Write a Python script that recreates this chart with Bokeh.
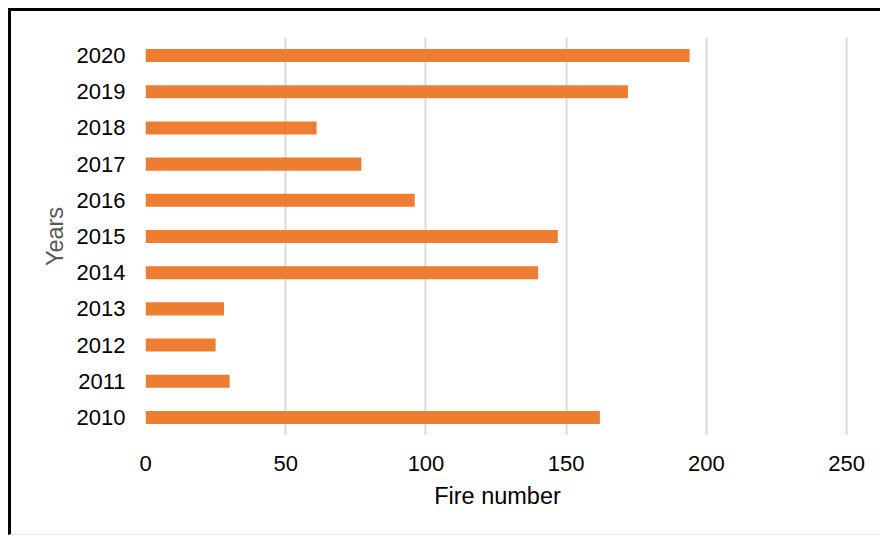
from bokeh.plotting import figure
from bokeh.models import Range1d, FactorRange, FixedTicker, ColumnDataSource
from bokeh.embed import file_html
from bokeh.resources import INLINE

years = ["2010", "2011", "2012", "2013", "2014", "2015", "2016", "2017", "2018", "2019", "2020"]
fires = [162, 30, 25, 28, 140, 147, 96, 77, 61, 172, 194]
x_ticks = [0, 50, 100, 150, 200, 250]

src = ColumnDataSource(data=dict(year=years, fires=fires))

p = figure(
    y_range=FactorRange(factors=years, range_padding=0),
    x_range=Range1d(0, 251),
    frame_width=704, frame_height=398,
    min_border_left=134, min_border_right=31,
    min_border_top=26, min_border_bottom=99,
    output_backend="svg", toolbar_location=None,
)
p.styles = {"border-top": "3px solid #000000", "border-left": "3px solid #000000",
            "border-bottom": "1px solid #e6e6e6",
            "margin-left": "8px", "margin-top": "8px"}

p.hbar(y="year", right="fires", left=0, height=0.36, source=src,
       fill_color="#ED7D31", line_color=None)

p.outline_line_color = None
p.background_fill_color = "white"
p.border_fill_color = "white"

p.xaxis.ticker = FixedTicker(ticks=x_ticks)
p.xgrid.ticker = FixedTicker(ticks=x_ticks)
p.xgrid.grid_line_color = "#D9D9D9"
p.xgrid.grid_line_width = 2
p.ygrid.grid_line_color = None

for ax in (p.xaxis[0], p.yaxis[0]):
    ax.axis_line_color = None
    ax.major_tick_line_color = None
    ax.minor_tick_line_color = None
    ax.major_tick_out = 0
    ax.major_tick_in = 0
    ax.minor_tick_out = 0
    ax.major_label_text_font = "Liberation Sans"
    ax.major_label_text_font_size = "22px"
    ax.major_label_text_color = "#000000"
    ax.axis_label_text_font = "Liberation Sans"
    ax.axis_label_text_font_size = "23.5px"
    ax.axis_label_text_font_style = "normal"

p.xaxis.axis_label = "Fire number"
p.xaxis.axis_label_text_color = "#000000"
p.xaxis.major_label_standoff = 20
p.xaxis.axis_label_standoff = 9

p.yaxis.axis_label = "Years"
p.yaxis.axis_label_text_color = "#595959"
p.yaxis.major_label_standoff = 20
p.yaxis.axis_label_standoff = 6

open("out.html", "w").write(file_html(p, INLINE))
